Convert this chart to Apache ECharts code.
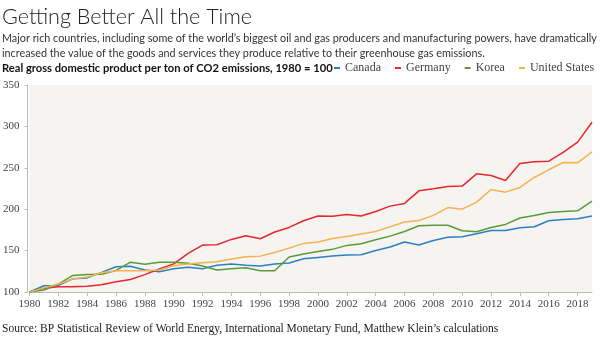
<!DOCTYPE html>
<html><head><meta charset="utf-8">
<script src="https://cdn.jsdelivr.net/npm/echarts@6/dist/echarts.min.js"></script>
<style>html,body{margin:0;padding:0;background:#fff}#c{width:600px;height:341px}</style>
</head><body><div id="c"></div>
<script>
const years = [];
for (let y = 1980; y <= 2019; y++) years.push(String(y));
const canada = [100,107.6,108,116,117,123.7,130.5,131,126.5,124.5,128,130,128,132.2,133.8,132.2,131.4,133.8,135,140.2,141.8,143.4,144.6,145,150.2,154.3,160.3,156.7,162.3,166,166.8,170.3,174.4,174.4,177.6,178.8,186,187.6,188.4,191.7];
const germany = [100,104.4,106.4,106.4,107,108.8,112.5,115,121,127.7,134,146.6,156.7,157,163.5,168,164.3,172.4,178,186,191.7,191.5,193.7,191.7,197.3,203.7,207,222.2,224.6,227.5,227.9,242.7,240.7,234.7,255.2,257.2,258,268.5,281,305];
const korea = [100,102.4,109.6,120,121,121.3,126,136,133.5,136,136,134.7,131.4,126.5,128,129.2,125.7,125.7,142.2,145.8,149,151.5,156.3,158.3,163,167.5,173,180,180.7,180.7,174,172.8,178,181.6,189.3,192.5,196,197.3,198,209.8];
const us = [100,105,109.6,115.7,118,123.3,125.7,125.7,125.7,126.5,131.7,133.7,135.4,136.6,139.8,142.6,143.3,147.8,153,158.7,160.3,164.7,167,170,173.2,178.8,184.6,186.4,192.5,202,200,208.5,223.8,220.6,226.3,238.3,247.6,256.4,256,269.3];
const seriesNames = ['Canada','Germany','Korea','United States'];
const seriesColors = ['#2d7fc4','#e8262c','#5b9a3c','#f7b24f'];

const chart = echarts.init(document.getElementById('c'), null, {renderer:'canvas'});
const serif = 'Liberation Serif';
const mk = (name, data, i) => ({
  name, type:'line', data, symbol:'none', smooth:false,
  lineStyle:{width:1.5, color:seriesColors[i]}, itemStyle:{color:seriesColors[i]}
});
chart.setOption({
  animation:false,
  backgroundColor:'#fff',
  graphic:[
    {type:'text', x:2, y:6, scaleX:0.98, style:{text:'Getting Better All the Time', font:'300 22px Lato', fill:'#222', verticalAlign:'top'}},
    {type:'text', x:2, y:31, scaleX:0.9, style:{text:'Major rich countries, including some of the world\u2019s biggest oil and gas producers and manufacturing powers, have dramatically\nincreased the value of the goods and services they produce relative to their greenhouse gas emissions.', font:'12px Lato', fill:'#333', lineHeight:15, verticalAlign:'top'}},
    {type:'text', x:2, y:62, scaleX:0.93, style:{text:'Real gross domestic product per ton of CO2 emissions, 1980 = 100', font:'bold 12px Lato', fill:'#111', verticalAlign:'top'}},
    {type:'text', x:2, y:323, style:{text:'Source: BP Statistical Review of World Energy, International Monetary Fund, Matthew Klein\u2019s calculations', font:'11.5px "Liberation Serif"', fill:'#222', verticalAlign:'top'}}
  ],
  legend:{
    left:334, top:62, width:266, padding:0, itemWidth:6, itemHeight:2, itemGap:14, icon:'rect',
    data:seriesNames,
    textStyle:{fontFamily:serif, fontSize:12, color:'#444'}
  },
  grid:{left:28, right:8, top:85, bottom:49, show:true, backgroundColor:'#f5f4f0', borderWidth:0},
  xAxis:{
    type:'category', data:years, boundaryGap:false,
    axisLine:{lineStyle:{color:'#bbb'}},
    axisTick:{show:true, interval:1, length:4, lineStyle:{color:'#bbb'}},
    axisLabel:{interval:1, color:'#444', fontFamily:serif, fontSize:11, margin:7}
  },
  yAxis:{
    type:'value', min:100, max:350, interval:50, offset:2,
    axisLine:{show:true, lineStyle:{color:'#bbb'}},
    axisTick:{show:true, length:3, lineStyle:{color:'#bbb'}},
    splitLine:{show:false},
    axisLabel:{color:'#444', fontFamily:serif, fontSize:11, margin:8}
  },
  series:[mk('Canada',canada,0), mk('Germany',germany,1), mk('Korea',korea,2), mk('United States',us,3)]
});
</script></body></html>
